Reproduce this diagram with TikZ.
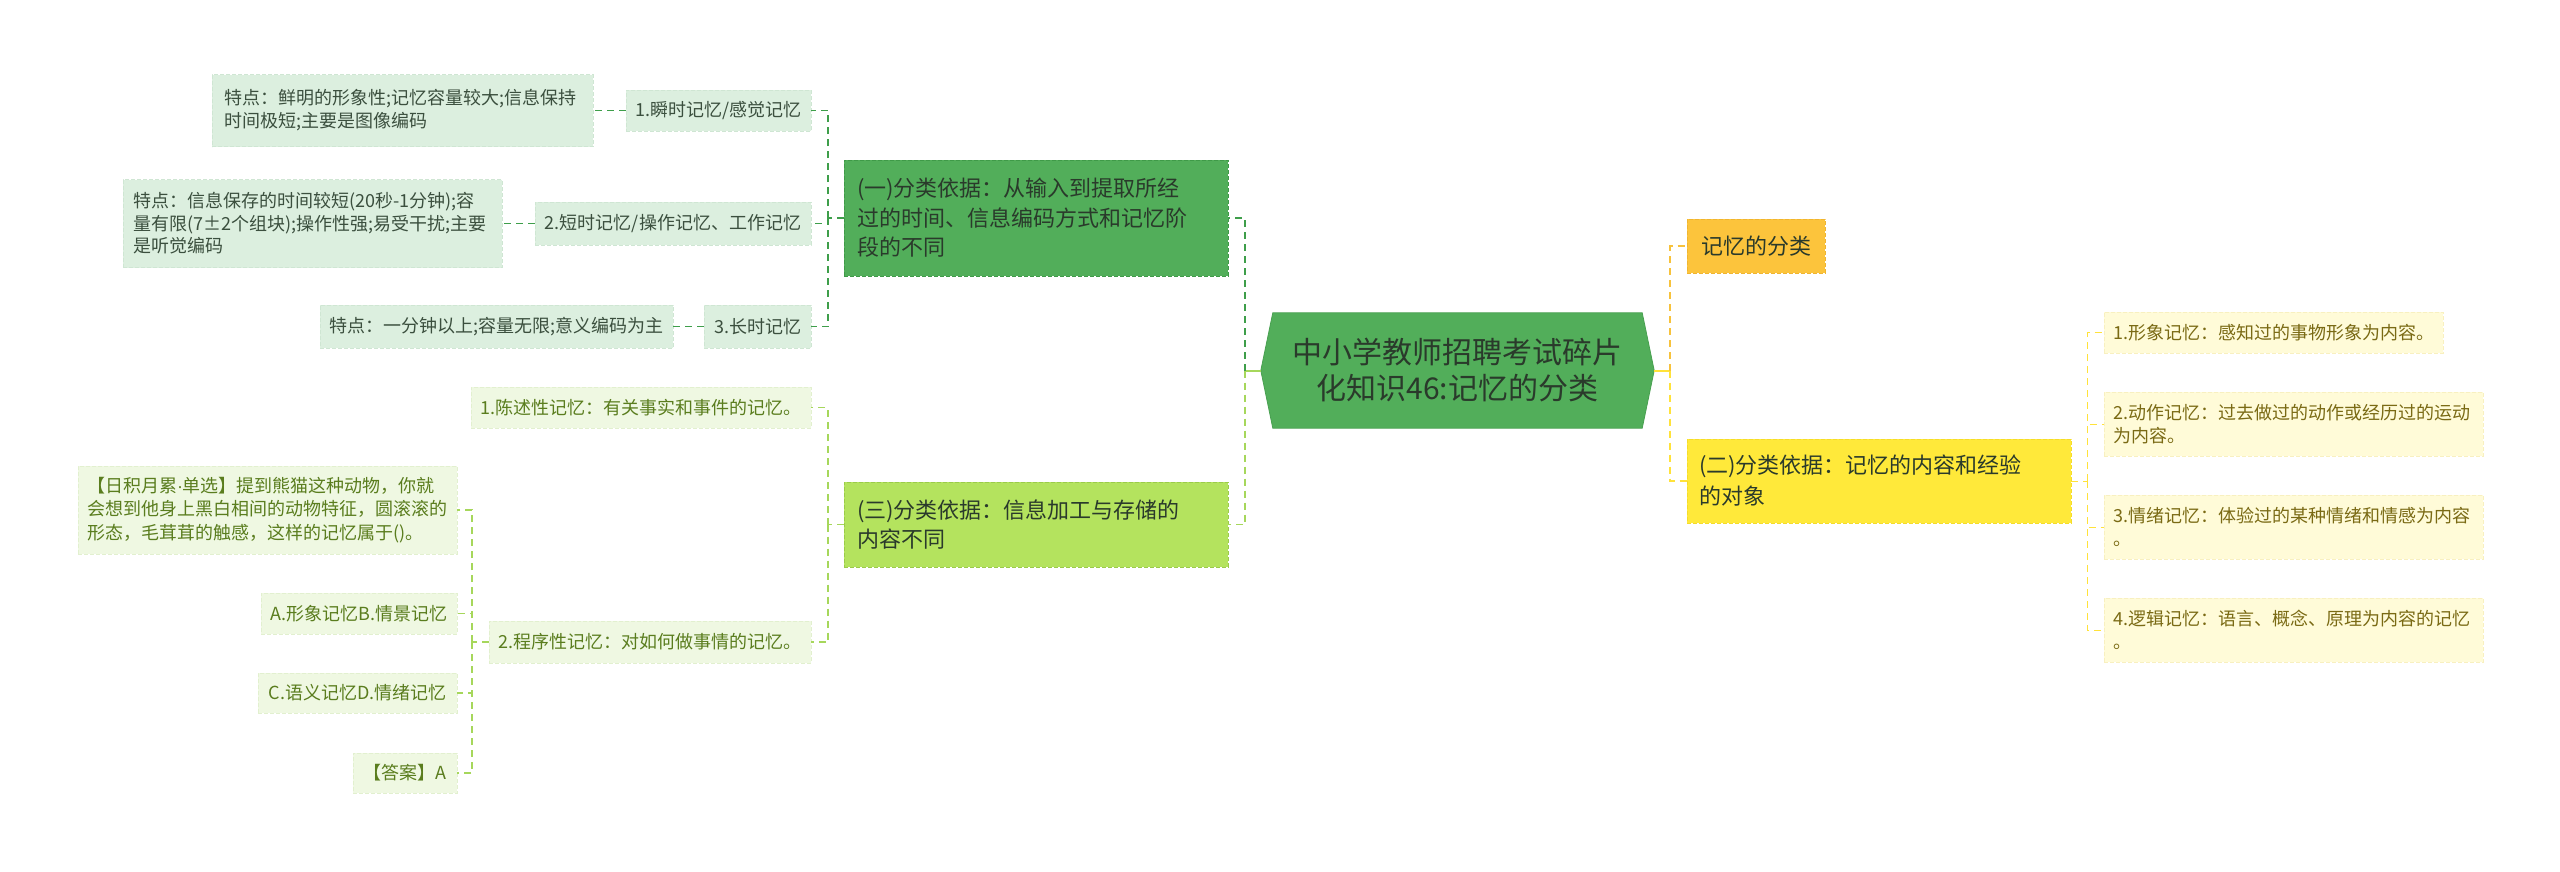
\documentclass[tikz,border=0pt]{standalone}
\usepackage{fontspec}
\setmainfont{Noto Sans CJK SC}
\newfontfamily\dotfont{Liberation Sans}
\definecolor{rootfill}{HTML}{52AE5A}
\definecolor{rootline}{HTML}{48A050}
\definecolor{roottext}{HTML}{2A3A2B}
\definecolor{bonefill}{HTML}{52AE5A}
\definecolor{boneline}{HTML}{3F9A48}
\definecolor{bthreefill}{HTML}{B4E35E}
\definecolor{bthreeline}{HTML}{9BCB4A}
\definecolor{ronefill}{HTML}{FCC43C}
\definecolor{roneline}{HTML}{F0B530}
\definecolor{rtwofill}{HTML}{FFE93A}
\definecolor{rtwoline}{HTML}{F5DC2A}
\definecolor{dkfill}{HTML}{DCEFDF}
\definecolor{dkline}{HTML}{CFE6D3}
\definecolor{dktext}{HTML}{3B4F3E}
\definecolor{ltfill}{HTML}{EFF8E2}
\definecolor{ltline}{HTML}{E2F0CF}
\definecolor{lttext}{HTML}{5A7D1E}
\definecolor{ylfill}{HTML}{FFFBD8}
\definecolor{ylline}{HTML}{F8F0C0}
\definecolor{yltext}{HTML}{7A6A14}
\definecolor{cdark}{HTML}{3E9E4A}
\definecolor{clight}{HTML}{A6D75B}
\definecolor{cyellow}{HTML}{FFE23A}
\definecolor{corange}{HTML}{F7C23C}
\begin{document}
\begin{tikzpicture}[x=1pt,y=-1pt,
  box/.style={rectangle, inner sep=0pt, anchor=center, align=left},
  bdash/.style={dash pattern=on 4pt off 2pt, line width=0.8pt},
  leafdk/.style={box, fill=dkfill, draw=dkline, bdash, text=dktext, font=\fontsize{18}{23}\selectfont},
  leaflt/.style={box, fill=ltfill, draw=ltline, bdash, text=lttext, font=\fontsize{18}{23.5}\selectfont},
  leafyl/.style={box, fill=ylfill, draw=ylline, bdash, text=yltext, font=\fontsize{18}{23}\selectfont},
  mainbox/.style={box, bdash, text=roottext, font=\fontsize{22}{29.5}\selectfont},
  conn/.style={dash pattern=on 7pt off 5pt, line width=1.4pt},
  cdk/.style={conn, draw=cdark},
  clt/.style={conn, draw=clight},
  cyl/.style={conn, draw=cyellow},
  cor/.style={conn, draw=corange}]
\useasboundingbox (0,0) rectangle (2560,871);
\fill[white] (0,0) rectangle (2560,871);

% root
\node[box, minimum width=393pt, minimum height=115pt] (root) at (1457.5,370.5) {};
\filldraw[fill=rootfill, draw=rootline, line width=0.8pt]
  ([xshift=12pt]root.north west) -- ([xshift=-12pt]root.north east) -- (root.east)
  -- ([xshift=-12pt]root.south east) -- ([xshift=12pt]root.south west) -- (root.west) -- cycle;
\node[text=roottext, font=\fontsize{30}{36}\selectfont, align=center] (roottxt) at (root.center)
  {中小学教师招聘考试碎片\\化知识46:记忆的分类};

\coordinate (jl) at (1245,370.5);
\coordinate (jr) at (1670,370.5);

% main branches
\node[mainbox, fill=bonefill, draw=boneline, minimum width=384pt, minimum height=116pt, text width=358pt] (b1) at (1036,218)
  {(一)分类依据：从输入到提取所经\\过的时间、信息编码方式和记忆阶\\段的不同};
\node[mainbox, fill=bthreefill, draw=bthreeline, minimum width=384pt, minimum height=85pt, text width=358pt] (b3) at (1036,524.5)
  {(三)分类依据：信息加工与存储的\\内容不同};
\node[mainbox, fill=ronefill, draw=roneline, minimum width=138pt, minimum height=54pt] (r1) at (1756,246)
  {记忆的分类};
\node[mainbox, fill=rtwofill, draw=rtwoline, minimum width=384pt, minimum height=84pt, text width=360pt,
  font=\fontsize{22}{31}\selectfont] (r2) at (1879,481)
  {(二)分类依据：记忆的内容和经验\\的对象};

% central connectors
\draw[draw=clight, line width=2pt] (root.west) -- (jl);
\draw[draw=cyellow, line width=2pt] (root.east) -- (jr);
\draw[cdk] (jl) -- (jl |- b1.east) -- (b1.east);
\draw[clt] (jl) -- (jl |- b3.east) -- (b3.east);
\draw[cor] (jr) |- (r1.west);
\draw[cyl] (jr) |- (r2.west);

% dark green branch leaves
\node[leafdk, minimum width=185pt, minimum height=41pt] (a1) at (718.5,110.5) {1.瞬时记忆/感觉记忆};
\node[leafdk, minimum width=381pt, minimum height=72pt, text width=357pt] (a1d) at (402.5,110.5)
  {特点：鲜明的形象性;记忆容量较大;信息保持\\时间极短;主要是图像编码};
\node[leafdk, minimum width=276pt, minimum height=43pt] (a2) at (673,223.5) {2.短时记忆/操作记忆、工作记忆};
\node[leafdk, minimum width=379pt, minimum height=88pt, text width=359pt, font=\fontsize{18}{22.5}\selectfont] (a2d) at (312.5,223.5)
  {特点：信息保存的时间较短(20秒-1分钟);容\\量有限(7±2个组块);操作性强;易受干扰;主要\\是听觉编码};
\node[leafdk, minimum width=107pt, minimum height=43pt] (a3) at (757.5,326.5) {3.长时记忆};
\node[leafdk, minimum width=353pt, minimum height=43pt] (a3d) at (496.5,326.5) {特点：一分钟以上;容量无限;意义编码为主};

\coordinate (ka) at (828,218);
\draw[cdk] (b1.west) -- (ka);
\draw[cdk] (ka) |- (a1.east);
\draw[cdk] (ka) |- (a2.east);
\draw[cdk] (ka) |- (a3.east);
\draw[cdk] (a1.west) -- (a1d.east);
\draw[cdk] (a2.west) -- (a2d.east);
\draw[cdk] (a3.west) -- (a3d.east);

% light green branch leaves
\node[leaflt, minimum width=340pt, minimum height=41pt] (c1) at (641,407.5) {1.陈述性记忆：有关事实和事件的记忆。};
\node[leaflt, minimum width=322pt, minimum height=42pt] (c2) at (650,642) {2.程序性记忆：对如何做事情的记忆。};
\node[leaflt, minimum width=379pt, minimum height=88pt, text width=361pt] (q) at (267.5,510)
  {【日积月累{\dotfont ·}单选】提到熊猫这种动物，你就\\会想到他身上黑白相间的动物特征，圆滚滚的\\形态，毛茸茸的触感，这样的记忆属于()。};
\node[leaflt, minimum width=196pt, minimum height=41pt] (qa) at (359,613.5) {A.形象记忆B.情景记忆};
\node[leaflt, minimum width=199pt, minimum height=40pt] (qc) at (357.5,693) {C.语义记忆D.情绪记忆};
\node[leaflt, minimum width=104pt, minimum height=40pt] (qd) at (405,773) {【答案】A};

\coordinate (kc) at (828,524.5);
\draw[clt] (b3.west) -- (kc);
\draw[clt] (kc) |- (c1.east);
\draw[clt] (kc) |- (c2.east);
\coordinate (kq) at (472,642);
\draw[clt] (c2.west) -- (kq);
\draw[clt] (kq) |- (q.east);
\draw[clt] (kq) |- (qa.east);
\draw[clt] (kq) |- (qc.east);
\draw[clt] (kq) |- (qd.east);

% yellow branch leaves
\node[leafyl, minimum width=339pt, minimum height=41pt] (r21) at (2273.5,332.5) {1.形象记忆：感知过的事物形象为内容。};
\node[leafyl, minimum width=379pt, minimum height=64pt, text width=361pt] (r22) at (2293.5,424)
  {2.动作记忆：过去做过的动作或经历过的运动\\为内容。};
\node[leafyl, minimum width=379pt, minimum height=64pt, text width=361pt] (r23) at (2293.5,527)
  {3.情绪记忆：体验过的某种情绪和情感为内容\\。};
\node[leafyl, minimum width=379pt, minimum height=64pt, text width=361pt] (r24) at (2293.5,630)
  {4.逻辑记忆：语言、概念、原理为内容的记忆\\。};

\coordinate (kr) at (2087,481);
\draw[cyl, line width=1pt] (r2.east) -- (kr);
\draw[cyl, line width=1pt] (kr) |- (r21.west);
\draw[cyl, line width=1pt] (kr) |- (r22.west);
\draw[cyl, line width=1pt] (kr) |- (r23.west);
\draw[cyl, line width=1pt] (kr) |- (r24.west);
\end{tikzpicture}
\end{document}
